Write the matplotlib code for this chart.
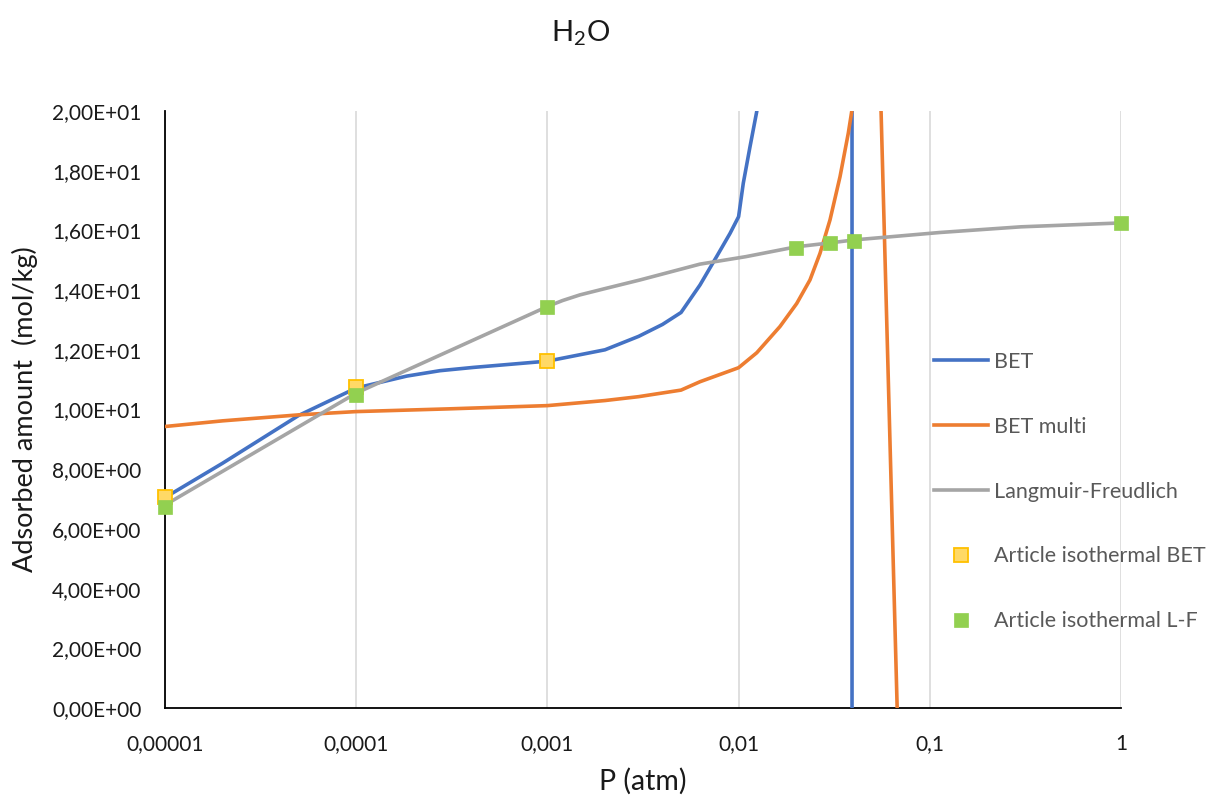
import matplotlib
matplotlib.use("Agg")
import matplotlib.pyplot as plt

plt.rcParams['font.family'] = ['Lato', 'DejaVu Sans']
plt.rcParams['mathtext.default'] = 'regular'

# ---- data ----
p_bet = [1e-5, 2e-5, 5e-5, 1e-4, 1.84e-4, 2.74e-4, 4.1e-4, 1e-3, 2e-3, 3e-3, 4e-3, 5e-3,
         6.28e-3, 7.67e-3, 9.02e-3, 1e-2, 1.058e-2, 1.147e-2, 1.244e-2, 1.5e-2, 0.0391, 0.0393]
q_bet = [7.05, 8.2, 9.8, 10.72, 11.12, 11.3, 11.41, 11.62, 12.0, 12.45, 12.85, 13.25,
         14.17, 15.12, 15.9, 16.46, 17.58, 18.8, 19.98, 28.0, 500.0, -500.0]

p_multi = [1e-5, 2e-5, 5e-5, 1e-4, 3e-4, 1e-3, 2e-3, 3e-3, 5e-3, 6.28e-3, 1e-2,
           0.01244, 0.01646, 0.02013, 0.02362, 0.02665, 0.03006, 0.03392, 0.03748,
           0.03904, 0.045, 0.0556, 0.0675, 0.08]
q_multi = [9.43, 9.62, 9.82, 9.93, 10.02, 10.13, 10.3, 10.43, 10.65, 10.93, 11.4,
           11.9, 12.78, 13.55, 14.34, 15.23, 16.35, 17.8, 19.26,
           19.98, 60.0, 20.0, 0.0, -25.0]

p_lf = [1e-5, 1e-4, 1e-3, 1.2e-3, 1.48e-3, 2e-3, 3.05e-3, 6.28e-3, 1.09e-2, 0.02, 0.03, 0.04,
        0.113, 0.3, 1.0]
q_lf = [6.8, 10.55, 13.45, 13.65, 13.84, 14.05, 14.34, 14.87, 15.12, 15.45, 15.58, 15.68,
        15.93, 16.12, 16.25]

p_art_bet = [1e-5, 1e-4, 1e-3]
q_art_bet = [7.07, 10.76, 11.62]

p_art_lf = [1e-5, 1e-4, 1e-3, 0.02, 0.03, 0.04, 1.0]
q_art_lf = [6.75, 10.49, 13.45, 15.42, 15.57, 15.66, 16.26]

x_ticks = [1e-5, 1e-4, 1e-3, 1e-2, 1e-1, 1.0]
x_tick_labels = ['0,00001', '0,0001', '0,001', '0,01', '0,1', '1']
y_ticks = [0, 2, 4, 6, 8, 10, 12, 14, 16, 18, 20]
y_tick_labels = ['0,00E+00', '2,00E+00', '4,00E+00', '6,00E+00', '8,00E+00',
                 '1,00E+01', '1,20E+01', '1,40E+01', '1,60E+01', '1,80E+01', '2,00E+01']

labels = ['BET', 'BET multi', 'Langmuir-Freudlich',
          'Article isothermal BET', 'Article isothermal L-F']

# ---- figure ----
W, H = 1210, 798
fig = plt.figure(figsize=(W / 100, H / 100), dpi=100)
ax = fig.add_axes([165 / W, 1 - 708 / H, (1121 - 165) / W, (708 - 111) / H])

ax.plot(p_bet, q_bet, color='#4472C4', lw=2.6, label=labels[0], zorder=3,
        solid_joinstyle='round')
ax.plot(p_multi, q_multi, color='#ED7D31', lw=2.6, label=labels[1], zorder=3,
        solid_joinstyle='round')
ax.plot(p_lf, q_lf, color='#A5A5A5', lw=2.6, label=labels[2], zorder=3,
        solid_joinstyle='round')
ax.plot(p_art_bet, q_art_bet, ls='none', marker='s', ms=10, mfc='#FFD966',
        mec='#FFC000', mew=1.3, label=labels[3], zorder=4, clip_on=False)
ax.plot(p_art_lf, q_art_lf, ls='none', marker='s', ms=10.5, mfc='#92D050',
        mec='#92D050', mew=0.5, label=labels[4], zorder=5, clip_on=False)

ax.set_xscale('log')
ax.set_xlim(1e-5, 1.0)
ax.set_ylim(0, 20)
ax.set_xticks(x_ticks)
ax.set_xticklabels(x_tick_labels)
ax.minorticks_off()
ax.set_yticks(y_ticks)
ax.set_yticklabels(y_tick_labels)

ax.tick_params(axis='both', length=0, labelsize=15, labelcolor='#1a1a1a')
ax.tick_params(axis='y', pad=17)
ax.tick_params(axis='x', pad=19)

ax.grid(axis='x', color='#D9D9D9', lw=1.2, zorder=0)
ax.set_axisbelow(True)
for s in ['top', 'right']:
    ax.spines[s].set_visible(False)
for s in ['left', 'bottom']:
    ax.spines[s].set_color('black')
    ax.spines[s].set_linewidth(1.3)

ax.set_xlabel('P (atm)', fontsize=20.5, color='#1a1a1a', labelpad=10)
ax.set_ylabel('Adsorbed amount  (mol/kg)', fontsize=19.5, color='#1a1a1a', labelpad=10)
fig.text(581 / W, 1 - 33 / H, 'H$_2$O', fontsize=21, ha='center', va='center', color='#1a1a1a')

leg = ax.legend(loc='upper left', bbox_to_anchor=(934 / W, 1 - 352 / H),
                bbox_transform=fig.transFigure, frameon=False, fontsize=15.5,
                handlelength=2.5, handletextpad=0.3, labelspacing=2.08,
                borderpad=0, borderaxespad=0)
for t in leg.get_texts():
    t.set_color('#595959')

fig.savefig('out.png', dpi=100)
